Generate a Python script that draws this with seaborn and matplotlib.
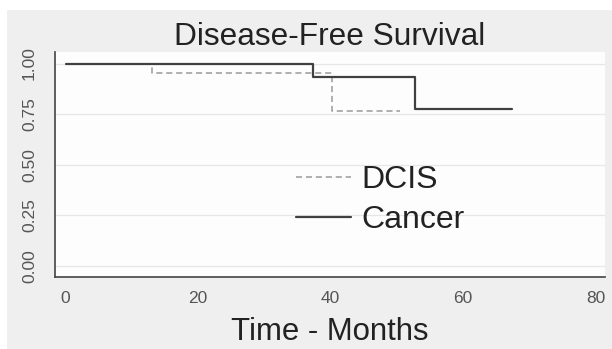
import matplotlib
matplotlib.use("Agg")
import matplotlib.pyplot as plt
import seaborn as sns
import pandas as pd
from matplotlib.patches import Rectangle

# Kaplan-Meier step points
dcis_time = [0, 13.1, 40.2, 50.5]
dcis_surv = [1.0, 0.955, 0.764, 0.764]
cancer_time = [0, 37.3, 52.8, 67.3]
cancer_surv = [1.0, 0.933, 0.778, 0.778]

x_ticks = [0, 20, 40, 60, 80]
y_ticks = [0.00, 0.25, 0.50, 0.75, 1.00]
y_labels = ["0.00", "0.25", "0.50", "0.75", "1.00"]

df = pd.concat([
    pd.DataFrame({"time": dcis_time, "surv": dcis_surv, "group": "DCIS"}),
    pd.DataFrame({"time": cancer_time, "surv": cancer_surv, "group": "Cancer"}),
])

sns.set_style("white")
plt.rcParams["font.family"] = ["Liberation Sans", "DejaVu Sans"]

fig = plt.figure(figsize=(6.12, 3.49), dpi=100, facecolor="white")
# grey panel behind the whole graph
fig.patches.append(Rectangle((7 / 612, 0), 1, 1 - 10 / 349, transform=fig.transFigure,
                             facecolor="#efefef", edgecolor="none", zorder=-10))

ax = fig.add_axes([55 / 612, 1 - 277 / 349, 550 / 612, 225 / 349])
ax.set_facecolor("#fdfdfd")

styles = {
    "DCIS": dict(color="#9a9a9a", linestyle=(0, (4, 2.5)), linewidth=1.1),
    "Cancer": dict(color="#404040", linestyle="-", linewidth=1.6),
}
for name, sub in df.groupby("group", sort=False):
    sns.lineplot(data=sub, x="time", y="surv", estimator=None, drawstyle="steps-post",
                 ax=ax, label=name, **styles[name])

ax.set_xlim(-1.6, 81.4)
ax.set_ylim(-0.054, 1.057)
ax.set_xticks(x_ticks)
ax.set_yticks(y_ticks)
ax.set_yticklabels(y_labels, rotation=90, va="center")
ax.grid(axis="y", color="#e6e6e6", linewidth=0.9)
ax.set_axisbelow(True)

for side in ["top", "right"]:
    ax.spines[side].set_visible(False)
for side in ["left", "bottom"]:
    ax.spines[side].set_color("#444444")
    ax.spines[side].set_linewidth(1.2)

ax.tick_params(axis="both", direction="out", length=4, width=1, color="#444444",
               labelsize=12.5, labelcolor="#555555")
ax.tick_params(axis="x", pad=6)
ax.tick_params(axis="y", pad=9)

ax.set_title("Disease-Free Survival", fontsize=22.8, color="#222222", pad=5)
ax.set_xlabel("Time - Months", fontsize=22.4, color="#222222", labelpad=8)
ax.set_ylabel("")

ax.legend(loc="center left", bbox_to_anchor=(0.385, 0.342), frameon=False,
          fontsize=23, handlelength=1.75, handletextpad=0.3, labelspacing=0.3,
          labelcolor="#222222")

fig.savefig("out.png", dpi=100, facecolor="white")
